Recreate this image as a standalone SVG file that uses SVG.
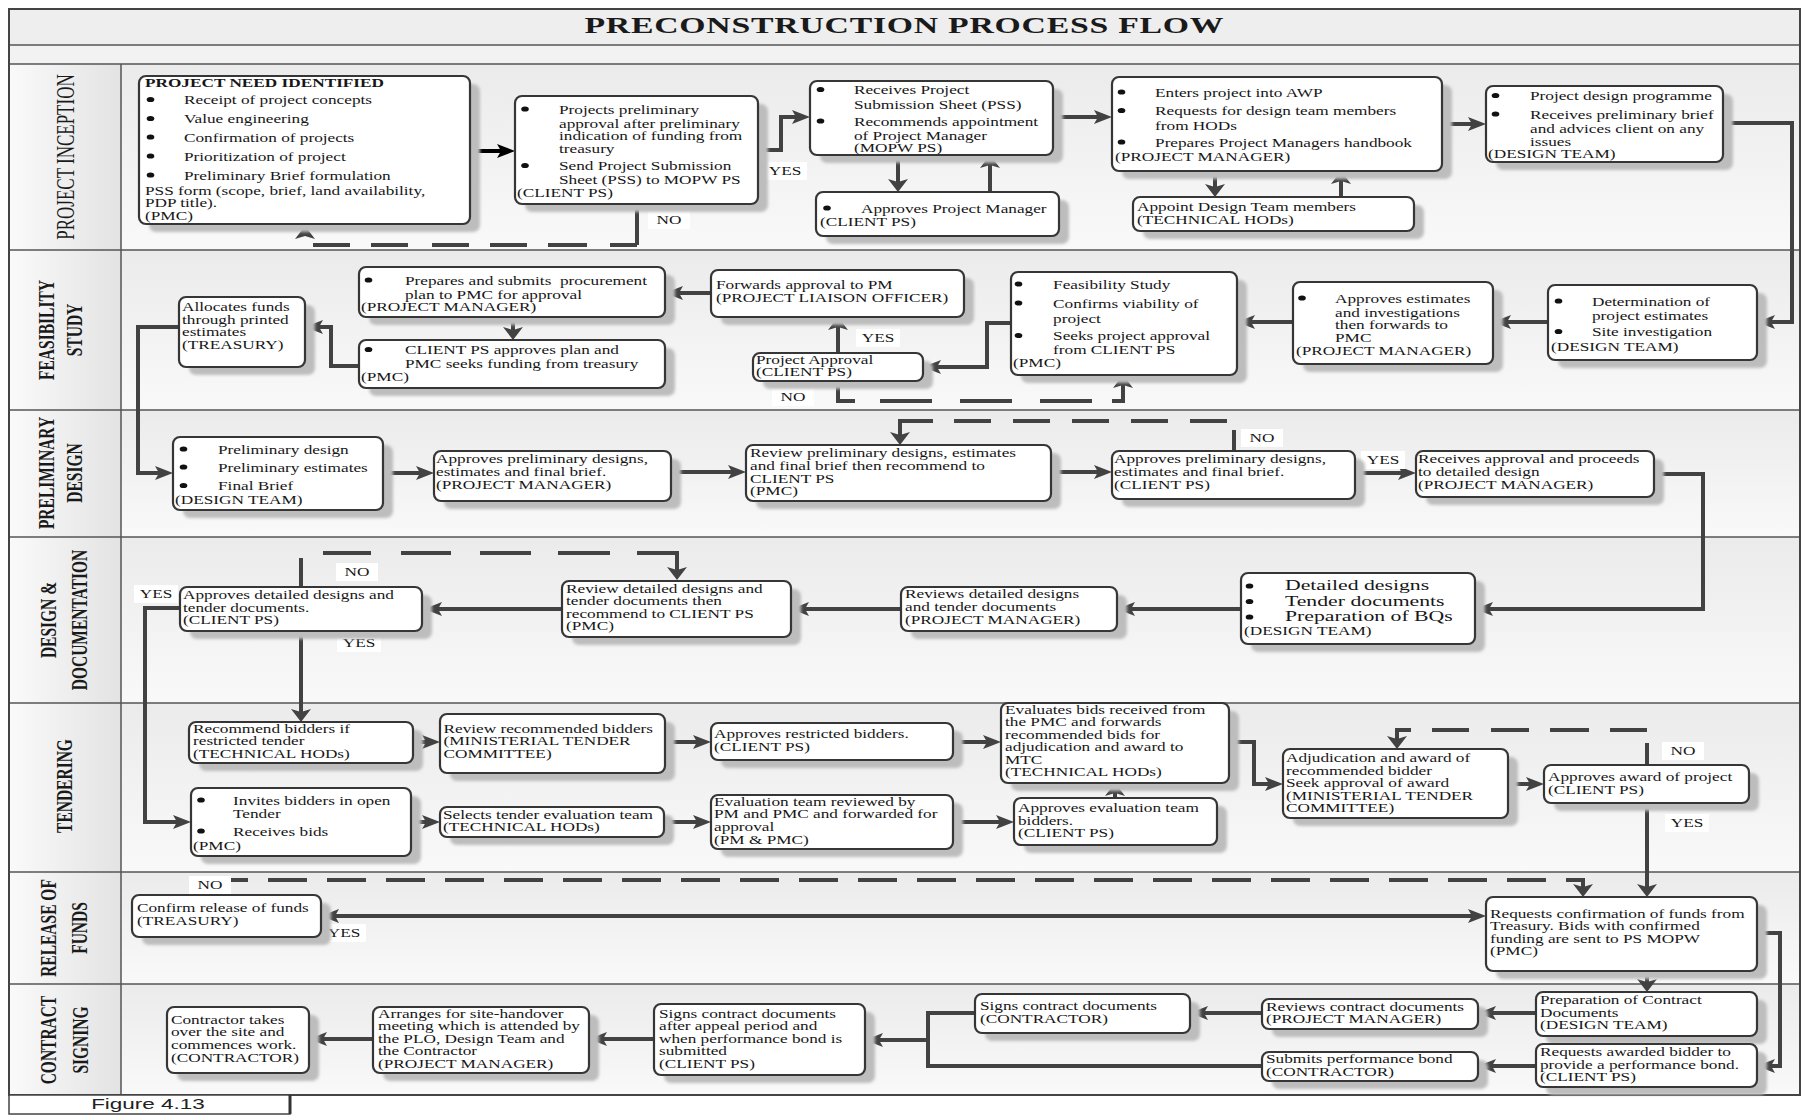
<svg xmlns="http://www.w3.org/2000/svg" width="1805" height="1115" viewBox="0 0 1805 1115">
<defs>
<style>
.sep{stroke:#555;stroke-width:1.5;fill:none}
.sh{fill:#bdbdbd;filter:url(#soft)}
.box{fill:#fff;stroke:#363636;stroke-width:2.2}
.dot{fill:#111}
.t{font-family:"Liberation Serif","Times New Roman",serif;font-size:11.5px;fill:#161616}
.b{font-weight:bold}
.big{font-size:14.5px}
.lane{font-family:"Liberation Serif","Times New Roman",serif;font-size:15.5px;font-weight:bold;fill:#1a1a1a;text-anchor:middle}
.lane-r{font-weight:normal;font-size:17px}
.ttl{font-family:"Liberation Serif","Times New Roman",serif;font-size:22.5px;font-weight:bold;fill:#1a1a1a;text-anchor:middle}
.ln{fill:none;stroke:#424242;stroke-width:4}
.lnk{fill:none;stroke:#000;stroke-width:4}
.lbl rect{fill:#fff}
.lbl text{font-family:"Liberation Serif","Times New Roman",serif;font-size:11.5px;fill:#161616;text-anchor:middle}
.fig{font-family:"Liberation Sans",Arial,sans-serif;font-size:15px;fill:#222;text-anchor:middle}
</style>
<filter id="soft" x="-10%" y="-10%" width="120%" height="130%"><feGaussianBlur stdDeviation="1.5"/></filter>
<linearGradient id="laneGrad" x1="0" y1="0" x2="0" y2="1"><stop offset="0" stop-color="#ebebeb"/><stop offset="1" stop-color="#f9f9f9"/></linearGradient>
<linearGradient id="colGrad" x1="0" y1="0" x2="1" y2="0"><stop offset="0" stop-color="#fafafa"/><stop offset="1" stop-color="#e3e3e3"/></linearGradient>
<marker id="ah" markerWidth="18" markerHeight="14" refX="12" refY="7" orient="auto-start-reverse" markerUnits="userSpaceOnUse"><path d="M0,0 L18,7 L0,14 L4,7 z" fill="#424242"/></marker>
<marker id="av" markerWidth="13" markerHeight="20" refX="7" refY="10" orient="auto" markerUnits="userSpaceOnUse"><path d="M0,0 L13,10 L0,20 L3,10 z" fill="#424242"/></marker>
<marker id="ahk" markerWidth="18" markerHeight="14" refX="12" refY="7" orient="auto" markerUnits="userSpaceOnUse"><path d="M0,0 L18,7 L0,14 L4,7 z" fill="#000"/></marker>
</defs>

<!-- frame, title and swimlanes -->
<g id="frame">
<rect x="9" y="9" width="1791" height="1086" fill="#fff"/>
<rect x="9" y="9" width="1791" height="36" fill="#eeeeee"/>
<rect x="9" y="45" width="1791" height="19" fill="#f2f2f2"/>
<rect x="121" y="64" width="1679" height="186" fill="url(#laneGrad)"/>
<rect x="121" y="250" width="1679" height="160" fill="url(#laneGrad)"/>
<rect x="121" y="410" width="1679" height="127" fill="url(#laneGrad)"/>
<rect x="121" y="537" width="1679" height="166" fill="url(#laneGrad)"/>
<rect x="121" y="703" width="1679" height="169" fill="url(#laneGrad)"/>
<rect x="121" y="872" width="1679" height="112" fill="url(#laneGrad)"/>
<rect x="121" y="984" width="1679" height="111" fill="url(#laneGrad)"/>
<rect x="9" y="64" width="112" height="1031" fill="url(#colGrad)"/>
<path class="sep" d="M9,45 H1800 M9,64 H1800 M9,250 H1800 M9,410 H1800 M9,537 H1800 M9,703 H1800 M9,872 H1800 M9,984 H1800 M121,64 V1095"/>
<rect x="9" y="9" width="1791" height="1086" fill="none" stroke="#444" stroke-width="2"/>
<text class="ttl" transform="translate(904,33) scale(1.5,1)" textLength="426" lengthAdjust="spacing">PRECONSTRUCTION PROCESS FLOW</text>
<rect x="9" y="1095" width="281" height="19" fill="#fff" stroke="#444" stroke-width="1.5"/>
<path d="M290,1095 V1114" stroke="#333" stroke-width="3"/>
<text class="fig" transform="translate(148,1109) scale(1.5,1)">Figure 4.13</text>
</g>

<g id="lane-labels">
<text class="lane lane-r" transform="translate(74,157) scale(1.5,1) rotate(-90)">PROJECT INCEPTION</text>
<text class="lane" transform="translate(54,330) scale(1.5,1) rotate(-90)">FEASIBILITY</text>
<text class="lane" transform="translate(82,330) scale(1.5,1) rotate(-90)">STUDY</text>
<text class="lane" transform="translate(54,473) scale(1.5,1) rotate(-90)">PRELIMINARY</text>
<text class="lane" transform="translate(82,473) scale(1.5,1) rotate(-90)">DESIGN</text>
<text class="lane" transform="translate(56,620) scale(1.5,1) rotate(-90)">DESIGN &amp;</text>
<text class="lane" transform="translate(87,620) scale(1.5,1) rotate(-90)">DOCUMENTATION</text>
<text class="lane" transform="translate(72,786) scale(1.5,1) rotate(-90)">TENDERING</text>
<text class="lane" transform="translate(56,928) scale(1.5,1) rotate(-90)">RELEASE OF</text>
<text class="lane" transform="translate(87,928) scale(1.5,1) rotate(-90)">FUNDS</text>
<text class="lane" transform="translate(56,1040) scale(1.5,1) rotate(-90)">CONTRACT</text>
<text class="lane" transform="translate(88,1040) scale(1.5,1) rotate(-90)">SIGNING</text>
</g>

<!-- connectors -->
<g id="connectors">
<path class="lnk" d="M470,151 H509" marker-end="url(#ahk)"/>
<path class="ln" d="M758,150 H781 V117 H804" marker-end="url(#ah)"/>
<path class="ln" d="M637,204 V245"/>
<path class="ln" d="M637,245 H305 V232" stroke-dasharray="27 23 39 21 37 21 37 24 37 21 37 30" marker-end="url(#av)"/>
<path class="ln" d="M898,155 V186" marker-end="url(#av)"/>
<path class="ln" d="M990,192 V161" marker-end="url(#av)"/>
<path class="ln" d="M1053,117 H1106" marker-end="url(#ah)"/>
<path class="ln" d="M1215,171 V191" marker-end="url(#av)"/>
<path class="ln" d="M1341,197 V177" marker-end="url(#av)"/>
<path class="ln" d="M1442,124 H1480" marker-end="url(#ah)"/>
<path class="ln" d="M1723,123 H1792 V322 H1763" marker-end="url(#ah)"/>
<path class="ln" d="M1548,322 H1499" marker-end="url(#ah)"/>
<path class="ln" d="M1293,322 H1243" marker-end="url(#ah)"/>
<path class="ln" d="M1011,323 H987 V367 H929" marker-end="url(#ah)"/>
<path class="ln" d="M838,353 V323" marker-end="url(#av)"/>
<path class="ln" d="M838,381 V401 H1123 V381" stroke-dasharray="37 25 52 28 52 28 52 20 60" marker-end="url(#av)"/>
<path class="ln" d="M711,293 H671" marker-end="url(#ah)"/>
<path class="ln" d="M513,317 V334" marker-end="url(#av)"/>
<path class="ln" d="M359,366 H331 V327 H311" marker-end="url(#ah)"/>
<path class="ln" d="M179,327 H138 V473 H167" marker-end="url(#ah)"/>
<path class="ln" d="M383,473 H428" marker-end="url(#ah)"/>
<path class="ln" d="M671,472 H740" marker-end="url(#ah)"/>
<path class="ln" d="M1051,472 H1106" marker-end="url(#ah)"/>
<path class="ln" d="M1355,473 H1410" marker-end="url(#ah)"/>
<path class="ln" d="M1234,452 V421 H900 V439" stroke-dasharray="22 16 37 22 37 22 37 22 37 22 37 21 60" marker-end="url(#av)"/>
<path class="ln" d="M1654,474 H1703 V609 H1481" marker-end="url(#ah)"/>
<path class="ln" d="M1241,609 H1123" marker-end="url(#ah)"/>
<path class="ln" d="M901,609 H797" marker-end="url(#ah)"/>
<path class="ln" d="M301,587 V553 H677 V574" stroke-dasharray="29 27 48 30 50 29 51 27 52 27 60" marker-end="url(#av)"/>
<path class="ln" d="M562,609 H430" marker-end="url(#ah)"/>
<path class="ln" d="M301,631 V716" marker-end="url(#av)"/>
<path class="ln" d="M180,608 H145 V822 H185" marker-end="url(#ah)"/>
<path class="ln" d="M413,742 H434" marker-end="url(#ah)"/>
<path class="ln" d="M665,742 H705" marker-end="url(#ah)"/>
<path class="ln" d="M953,742 H995" marker-end="url(#ah)"/>
<path class="ln" d="M1115,798 V789" marker-end="url(#av)"/>
<path class="ln" d="M1229,742 H1254 V784 H1277" marker-end="url(#ah)"/>
<path class="ln" d="M1508,784 H1538" marker-end="url(#ah)"/>
<path class="ln" d="M1647,765 V730 H1397 V743" stroke-dasharray="22 13 37 21 39 21 38 22 37 21 40" marker-end="url(#av)"/>
<path class="ln" d="M1647,803 V891" marker-end="url(#av)"/>
<path class="ln" d="M411,822 H434" marker-end="url(#ah)"/>
<path class="ln" d="M664,822 H705" marker-end="url(#ah)"/>
<path class="ln" d="M953,822 H1008" marker-end="url(#ah)"/>
<path class="ln" d="M210,895 V880 H1583 V891" stroke-dasharray="39 20" stroke-dashoffset="45" marker-end="url(#av)"/>
<path class="ln" d="M327,916 H1480" marker-start="url(#ah)" marker-end="url(#ah)"/>
<path class="ln" d="M1647,971 V986" marker-end="url(#av)"/>
<path class="ln" d="M1757,933 H1780 V1066 H1763" marker-end="url(#ah)"/>
<path class="ln" d="M1536,1013 H1484" marker-end="url(#ah)"/>
<path class="ln" d="M1536,1066 H1484" marker-end="url(#ah)"/>
<path class="ln" d="M1262,1013 H1196" marker-end="url(#ah)"/>
<path class="ln" d="M975,1013 H928 V1066 H1262"/>
<path class="ln" d="M928,1040 H871" marker-end="url(#ah)"/>
<path class="ln" d="M654,1039 H595" marker-end="url(#ah)"/>
<path class="ln" d="M373,1039 H315" marker-end="url(#ah)"/>
</g>

<!-- decision labels on connectors -->
<g id="branch-labels">
<g class="lbl"><rect x="763" y="162" width="44" height="18"/><text transform="translate(785,175) scale(1.5,1)">YES</text></g>
<g class="lbl"><rect x="648" y="211" width="42" height="18"/><text transform="translate(669,224) scale(1.5,1)">NO</text></g>
<g class="lbl"><rect x="856" y="329" width="44" height="18"/><text transform="translate(878,342) scale(1.5,1)">YES</text></g>
<g class="lbl"><rect x="772" y="388" width="42" height="18"/><text transform="translate(793,401) scale(1.5,1)">NO</text></g>
<g class="lbl"><rect x="1241" y="429" width="42" height="18"/><text transform="translate(1262,442) scale(1.5,1)">NO</text></g>
<g class="lbl"><rect x="1361" y="451" width="44" height="18"/><text transform="translate(1383,464) scale(1.5,1)">YES</text></g>
<g class="lbl"><rect x="336" y="563" width="42" height="18"/><text transform="translate(357,576) scale(1.5,1)">NO</text></g>
<g class="lbl"><rect x="337" y="634" width="44" height="18"/><text transform="translate(359,647) scale(1.5,1)">YES</text></g>
<g class="lbl"><rect x="134" y="585" width="44" height="18"/><text transform="translate(156,598) scale(1.5,1)">YES</text></g>
<g class="lbl"><rect x="1662" y="742" width="42" height="18"/><text transform="translate(1683,755) scale(1.5,1)">NO</text></g>
<g class="lbl"><rect x="1665" y="814" width="44" height="18"/><text transform="translate(1687,827) scale(1.5,1)">YES</text></g>
<g class="lbl"><rect x="189" y="876" width="42" height="18"/><text transform="translate(210,889) scale(1.5,1)">NO</text></g>
<g class="lbl"><rect x="322" y="924" width="44" height="18"/><text transform="translate(344,937) scale(1.5,1)">YES</text></g>
</g>

<!-- process steps -->
<g id="n-need">
<rect class="sh" x="149" y="84" width="331" height="148" rx="7"/>
<rect class="box" x="139" y="76" width="331" height="148" rx="7"/>
<ellipse class="dot" cx="150.5" cy="99.5" rx="3.8" ry="2.6"/>
<ellipse class="dot" cx="150.5" cy="118.5" rx="3.8" ry="2.6"/>
<ellipse class="dot" cx="150.5" cy="137" rx="3.8" ry="2.6"/>
<ellipse class="dot" cx="150.5" cy="156" rx="3.8" ry="2.6"/>
<ellipse class="dot" cx="150.5" cy="175" rx="3.8" ry="2.6"/>
<text class="t" transform="translate(145,0) scale(1.5,1)">
<tspan class="b" x="0" y="87">PROJECT NEED IDENTIFIED</tspan>
<tspan x="26" y="104.5">Receipt of project concepts</tspan>
<tspan x="26" y="123.5">Value engineering</tspan>
<tspan x="26" y="142">Confirmation of projects</tspan>
<tspan x="26" y="161">Prioritization of project</tspan>
<tspan x="26" y="180">Preliminary Brief formulation</tspan>
<tspan x="0" y="195">PSS form (scope, brief, land availability,</tspan>
<tspan x="0" y="207.5">PDP title).</tspan>
<tspan x="0" y="220">(PMC)</tspan>
</text>
</g>

<g id="n-prelim-approval">
<rect class="sh" x="525" y="104" width="243" height="108" rx="7"/>
<rect class="box" x="515" y="96" width="243" height="108" rx="7"/>
<ellipse class="dot" cx="525" cy="109" rx="3.8" ry="2.6"/>
<ellipse class="dot" cx="525" cy="165.5" rx="3.8" ry="2.6"/>
<text class="t" transform="translate(517,0) scale(1.5,1)">
<tspan x="28" y="114">Projects preliminary</tspan>
<tspan x="28" y="127.5">approval after preliminary</tspan>
<tspan x="28" y="140.5">indication of funding from</tspan>
<tspan x="28" y="153">treasury</tspan>
<tspan x="28" y="170.5">Send Project Submission</tspan>
<tspan x="28" y="184.5">Sheet (PSS) to MOPW PS</tspan>
<tspan x="0" y="197">(CLIENT PS)</tspan>
</text>
</g>

<g id="n-receive-pss">
<rect class="sh" x="820" y="89" width="243" height="74" rx="7"/>
<rect class="box" x="810" y="81" width="243" height="74" rx="7"/>
<ellipse class="dot" cx="820.5" cy="89.5" rx="3.8" ry="2.6"/>
<ellipse class="dot" cx="820.5" cy="121" rx="3.8" ry="2.6"/>
<text class="t" transform="translate(819,0) scale(1.5,1)">
<tspan x="23.3" y="94.5">Receives Project</tspan>
<tspan x="23.3" y="109">Submission Sheet (PSS)</tspan>
<tspan x="23.3" y="126">Recommends appointment</tspan>
<tspan x="23.3" y="140">of Project Manager</tspan>
<tspan x="23.3" y="152.5">(MOPW PS)</tspan>
</text>
</g>

<g id="n-awp">
<rect class="sh" x="1122" y="85" width="330" height="94" rx="7"/>
<rect class="box" x="1112" y="77" width="330" height="94" rx="7"/>
<ellipse class="dot" cx="1121.5" cy="92" rx="3.8" ry="2.6"/>
<ellipse class="dot" cx="1121.5" cy="110.5" rx="3.8" ry="2.6"/>
<ellipse class="dot" cx="1121.5" cy="142" rx="3.8" ry="2.6"/>
<text class="t" transform="translate(1115,0) scale(1.5,1)">
<tspan x="26.7" y="97">Enters project into AWP</tspan>
<tspan x="26.7" y="115.5">Requests for design team members</tspan>
<tspan x="26.7" y="130">from HODs</tspan>
<tspan x="26.7" y="147">Prepares Project Managers handbook</tspan>
<tspan x="0" y="161">(PROJECT MANAGER)</tspan>
</text>
</g>

<g id="n-approve-pm">
<rect class="sh" x="826" y="200" width="243" height="44" rx="7"/>
<rect class="box" x="816" y="192" width="243" height="44" rx="7"/>
<ellipse class="dot" cx="827" cy="208" rx="3.8" ry="2.6"/>
<text class="t" transform="translate(820,0) scale(1.5,1)">
<tspan x="27.3" y="213">Approves Project Manager</tspan>
<tspan x="0" y="226.5">(CLIENT PS)</tspan>
</text>
</g>

<g id="n-appoint-team">
<rect class="sh" x="1143" y="205" width="281" height="34" rx="7"/>
<rect class="box" x="1133" y="197" width="281" height="34" rx="7"/>
<text class="t" transform="translate(1137,0) scale(1.5,1)">
<tspan x="0" y="211">Appoint Design Team members</tspan>
<tspan x="0" y="224">(TECHNICAL HODs)</tspan>
</text>
</g>

<g id="n-design-programme">
<rect class="sh" x="1496" y="94" width="237" height="76" rx="7"/>
<rect class="box" x="1486" y="86" width="237" height="76" rx="7"/>
<ellipse class="dot" cx="1495.5" cy="95.5" rx="3.8" ry="2.6"/>
<ellipse class="dot" cx="1495.5" cy="114" rx="3.8" ry="2.6"/>
<text class="t" transform="translate(1488,0) scale(1.5,1)">
<tspan x="28" y="100.5">Project design programme</tspan>
<tspan x="28" y="119">Receives preliminary brief</tspan>
<tspan x="28" y="133">and advices client on any</tspan>
<tspan x="28" y="146">issues</tspan>
<tspan x="0" y="158.5">(DESIGN TEAM)</tspan>
</text>
</g>

<g id="n-estimates">
<rect class="sh" x="1558" y="293" width="209" height="75" rx="7"/>
<rect class="box" x="1548" y="285" width="209" height="75" rx="7"/>
<ellipse class="dot" cx="1558.5" cy="301" rx="3.8" ry="2.6"/>
<ellipse class="dot" cx="1558.5" cy="331.5" rx="3.8" ry="2.6"/>
<text class="t" transform="translate(1551,0) scale(1.5,1)">
<tspan x="27.3" y="306">Determination of</tspan>
<tspan x="27.3" y="320">project estimates</tspan>
<tspan x="27.3" y="336.5">Site investigation</tspan>
<tspan x="0" y="351">(DESIGN TEAM)</tspan>
</text>
</g>

<g id="n-approve-estimates">
<rect class="sh" x="1303" y="290" width="200" height="82" rx="7"/>
<rect class="box" x="1293" y="282" width="200" height="82" rx="7"/>
<ellipse class="dot" cx="1302" cy="298" rx="3.8" ry="2.6"/>
<text class="t" transform="translate(1296,0) scale(1.5,1)">
<tspan x="26" y="303">Approves estimates</tspan>
<tspan x="26" y="317">and investigations</tspan>
<tspan x="26" y="329.5">then forwards to</tspan>
<tspan x="26" y="342">PMC</tspan>
<tspan x="0" y="355">(PROJECT MANAGER)</tspan>
</text>
</g>

<g id="n-feasibility">
<rect class="sh" x="1021" y="280" width="226" height="103" rx="7"/>
<rect class="box" x="1011" y="272" width="226" height="103" rx="7"/>
<ellipse class="dot" cx="1018.5" cy="284" rx="3.8" ry="2.6"/>
<ellipse class="dot" cx="1018.5" cy="303" rx="3.8" ry="2.6"/>
<ellipse class="dot" cx="1018.5" cy="335.5" rx="3.8" ry="2.6"/>
<text class="t" transform="translate(1013,0) scale(1.5,1)">
<tspan x="26.7" y="289">Feasibility Study</tspan>
<tspan x="26.7" y="308">Confirms viability of</tspan>
<tspan x="26.7" y="323">project</tspan>
<tspan x="26.7" y="340.5">Seeks project approval</tspan>
<tspan x="26.7" y="354.5">from CLIENT PS</tspan>
<tspan x="0" y="367">(PMC)</tspan>
</text>
</g>

<g id="n-project-approval">
<rect class="sh" x="763" y="361" width="170" height="28" rx="7"/>
<rect class="box" x="753" y="353" width="170" height="28" rx="7"/>
<text class="t" transform="translate(756,0) scale(1.5,1)">
<tspan x="0" y="364">Project Approval</tspan>
<tspan x="0" y="376.5">(CLIENT PS)</tspan>
</text>
</g>

<g id="n-forward-approval">
<rect class="sh" x="721" y="278" width="253" height="47" rx="7"/>
<rect class="box" x="711" y="270" width="253" height="47" rx="7"/>
<text class="t" transform="translate(716,0) scale(1.5,1)">
<tspan x="0" y="289">Forwards approval to PM</tspan>
<tspan x="0" y="302">(PROJECT LIAISON OFFICER)</tspan>
</text>
</g>

<g id="n-procurement-plan">
<rect class="sh" x="369" y="275" width="306" height="50" rx="7"/>
<rect class="box" x="359" y="267" width="306" height="50" rx="7"/>
<ellipse class="dot" cx="368.5" cy="280" rx="3.8" ry="2.6"/>
<text class="t" transform="translate(361,0) scale(1.5,1)">
<tspan x="29.3" y="285">Prepares and submits &#160;procurement</tspan>
<tspan x="29.3" y="299">plan to PMC for approval</tspan>
<tspan x="0" y="311.5">(PROJECT MANAGER)</tspan>
</text>
</g>

<g id="n-plan-approved">
<rect class="sh" x="369" y="348" width="306" height="48" rx="7"/>
<rect class="box" x="359" y="340" width="306" height="48" rx="7"/>
<ellipse class="dot" cx="368.5" cy="349.5" rx="3.8" ry="2.6"/>
<text class="t" transform="translate(361,0) scale(1.5,1)">
<tspan x="29.3" y="354.5">CLIENT PS approves plan and</tspan>
<tspan x="29.3" y="368.5">PMC seeks funding from treasury</tspan>
<tspan x="0" y="381.5">(PMC)</tspan>
</text>
</g>

<g id="n-allocate-funds">
<rect class="sh" x="189" y="305" width="126" height="70" rx="7"/>
<rect class="box" x="179" y="297" width="126" height="70" rx="7"/>
<text class="t" transform="translate(182,0) scale(1.5,1)">
<tspan x="0" y="311.5">Allocates funds</tspan>
<tspan x="0" y="324">through printed</tspan>
<tspan x="0" y="336.5">estimates</tspan>
<tspan x="0" y="349">(TREASURY)</tspan>
</text>
</g>

<g id="n-prelim-design">
<rect class="sh" x="183" y="445" width="210" height="73" rx="7"/>
<rect class="box" x="173" y="437" width="210" height="73" rx="7"/>
<ellipse class="dot" cx="183.5" cy="449" rx="3.8" ry="2.6"/>
<ellipse class="dot" cx="183.5" cy="467" rx="3.8" ry="2.6"/>
<ellipse class="dot" cx="183.5" cy="485.5" rx="3.8" ry="2.6"/>
<text class="t" transform="translate(175,0) scale(1.5,1)">
<tspan x="28.7" y="454">Preliminary design</tspan>
<tspan x="28.7" y="472">Preliminary estimates</tspan>
<tspan x="28.7" y="490.5">Final Brief</tspan>
<tspan x="0" y="504.5">(DESIGN TEAM)</tspan>
</text>
</g>

<g id="n-pm-prelim">
<rect class="sh" x="444" y="459" width="237" height="50" rx="7"/>
<rect class="box" x="434" y="451" width="237" height="50" rx="7"/>
<text class="t" transform="translate(436,0) scale(1.5,1)">
<tspan x="0" y="463">Approves preliminary designs,</tspan>
<tspan x="0" y="476">estimates and final brief.</tspan>
<tspan x="0" y="489">(PROJECT MANAGER)</tspan>
</text>
</g>

<g id="n-pmc-prelim">
<rect class="sh" x="756" y="453" width="305" height="56" rx="7"/>
<rect class="box" x="746" y="445" width="305" height="56" rx="7"/>
<text class="t" transform="translate(750,0) scale(1.5,1)">
<tspan x="0" y="457.5">Review preliminary designs, estimates</tspan>
<tspan x="0" y="470">and final brief then recommend to</tspan>
<tspan x="0" y="483">CLIENT PS</tspan>
<tspan x="0" y="495.5">(PMC)</tspan>
</text>
</g>

<g id="n-client-prelim">
<rect class="sh" x="1122" y="459" width="243" height="48" rx="7"/>
<rect class="box" x="1112" y="451" width="243" height="48" rx="7"/>
<text class="t" transform="translate(1114,0) scale(1.5,1)">
<tspan x="0" y="463">Approves preliminary designs,</tspan>
<tspan x="0" y="476">estimates and final brief.</tspan>
<tspan x="0" y="489">(CLIENT PS)</tspan>
</text>
</g>

<g id="n-proceed-detailed">
<rect class="sh" x="1426" y="459" width="238" height="46" rx="7"/>
<rect class="box" x="1416" y="451" width="238" height="46" rx="7"/>
<text class="t" transform="translate(1418,0) scale(1.5,1)">
<tspan x="0" y="463.5">Receives approval and proceeds</tspan>
<tspan x="0" y="476">to detailed design</tspan>
<tspan x="0" y="489">(PROJECT MANAGER)</tspan>
</text>
</g>

<g id="n-detailed-design">
<rect class="sh" x="1251" y="581" width="234" height="71" rx="7"/>
<rect class="box" x="1241" y="573" width="234" height="71" rx="7"/>
<ellipse class="dot" cx="1249.5" cy="586" rx="3.8" ry="2.6"/>
<ellipse class="dot" cx="1249.5" cy="601.5" rx="3.8" ry="2.6"/>
<ellipse class="dot" cx="1249.5" cy="617" rx="3.8" ry="2.6"/>
<text class="t" transform="translate(1244,0) scale(1.5,1)">
<tspan class="big" x="27.3" y="590.5">Detailed designs</tspan>
<tspan class="big" x="27.3" y="606">Tender documents</tspan>
<tspan class="big" x="27.3" y="621.5">Preparation of BQs</tspan>
<tspan x="0" y="635.5">(DESIGN TEAM)</tspan>
</text>
</g>

<g id="n-pm-detailed">
<rect class="sh" x="911" y="595" width="216" height="44" rx="7"/>
<rect class="box" x="901" y="587" width="216" height="44" rx="7"/>
<text class="t" transform="translate(905,0) scale(1.5,1)">
<tspan x="0" y="598.5">Reviews detailed designs</tspan>
<tspan x="0" y="611.5">and tender documents</tspan>
<tspan x="0" y="624">(PROJECT MANAGER)</tspan>
</text>
</g>

<g id="n-pmc-detailed">
<rect class="sh" x="572" y="589" width="229" height="56" rx="7"/>
<rect class="box" x="562" y="581" width="229" height="56" rx="7"/>
<text class="t" transform="translate(566,0) scale(1.5,1)">
<tspan x="0" y="593">Review detailed designs and</tspan>
<tspan x="0" y="605.5">tender documents then</tspan>
<tspan x="0" y="618">recommend to CLIENT PS</tspan>
<tspan x="0" y="630.5">(PMC)</tspan>
</text>
</g>

<g id="n-client-detailed">
<rect class="sh" x="190" y="595" width="242" height="44" rx="7"/>
<rect class="box" x="180" y="587" width="242" height="44" rx="7"/>
<text class="t" transform="translate(183,0) scale(1.5,1)">
<tspan x="0" y="599.5">Approves detailed designs and</tspan>
<tspan x="0" y="612">tender documents.</tspan>
<tspan x="0" y="624">(CLIENT PS)</tspan>
</text>
</g>

<g id="n-recommend-bidders">
<rect class="sh" x="199" y="730" width="224" height="41" rx="7"/>
<rect class="box" x="189" y="722" width="224" height="41" rx="7"/>
<text class="t" transform="translate(193,0) scale(1.5,1)">
<tspan x="0" y="733">Recommend bidders if</tspan>
<tspan x="0" y="745.5">restricted tender</tspan>
<tspan x="0" y="758">(TECHNICAL HODs)</tspan>
</text>
</g>

<g id="n-mtc-review">
<rect class="sh" x="450" y="722" width="225" height="59" rx="7"/>
<rect class="box" x="440" y="714" width="225" height="59" rx="7"/>
<text class="t" transform="translate(443.5,0) scale(1.5,1)">
<tspan x="0" y="733">Review recommended bidders</tspan>
<tspan x="0" y="745.5">(MINISTERIAL TENDER</tspan>
<tspan x="0" y="758">COMMITTEE)</tspan>
</text>
</g>

<g id="n-approve-restricted">
<rect class="sh" x="721" y="731" width="242" height="37" rx="7"/>
<rect class="box" x="711" y="723" width="242" height="37" rx="7"/>
<text class="t" transform="translate(714,0) scale(1.5,1)">
<tspan x="0" y="738.5">Approves restricted bidders.</tspan>
<tspan x="0" y="751">(CLIENT PS)</tspan>
</text>
</g>

<g id="n-evaluate-bids">
<rect class="sh" x="1011" y="711" width="228" height="80" rx="7"/>
<rect class="box" x="1001" y="703" width="228" height="80" rx="7"/>
<text class="t" transform="translate(1005,0) scale(1.5,1)">
<tspan x="0" y="714">Evaluates bids received from</tspan>
<tspan x="0" y="726.5">the PMC and forwards</tspan>
<tspan x="0" y="739">recommended bids for</tspan>
<tspan x="0" y="751.5">adjudication and award to</tspan>
<tspan x="0" y="764">MTC</tspan>
<tspan x="0" y="776.5">(TECHNICAL HODs)</tspan>
</text>
</g>

<g id="n-approve-eval-team">
<rect class="sh" x="1024" y="806" width="203" height="47" rx="7"/>
<rect class="box" x="1014" y="798" width="203" height="47" rx="7"/>
<text class="t" transform="translate(1018,0) scale(1.5,1)">
<tspan x="0" y="812">Approves evaluation team</tspan>
<tspan x="0" y="825">bidders.</tspan>
<tspan x="0" y="837.5">(CLIENT PS)</tspan>
</text>
</g>

<g id="n-adjudication">
<rect class="sh" x="1293" y="757" width="225" height="69" rx="7"/>
<rect class="box" x="1283" y="749" width="225" height="69" rx="7"/>
<text class="t" transform="translate(1286,0) scale(1.5,1)">
<tspan x="0" y="762.5">Adjudication and award of</tspan>
<tspan x="0" y="775">recommended bidder</tspan>
<tspan x="0" y="787.5">Seek approval of award</tspan>
<tspan x="0" y="800">(MINISTERIAL TENDER</tspan>
<tspan x="0" y="812.5">COMMITTEE)</tspan>
</text>
</g>

<g id="n-approve-award">
<rect class="sh" x="1554" y="773" width="205" height="38" rx="7"/>
<rect class="box" x="1544" y="765" width="205" height="38" rx="7"/>
<text class="t" transform="translate(1548,0) scale(1.5,1)">
<tspan x="0" y="781">Approves award of project</tspan>
<tspan x="0" y="794">(CLIENT PS)</tspan>
</text>
</g>

<g id="n-open-tender">
<rect class="sh" x="201" y="796" width="220" height="68" rx="7"/>
<rect class="box" x="191" y="788" width="220" height="68" rx="7"/>
<ellipse class="dot" cx="201" cy="800" rx="3.8" ry="2.6"/>
<ellipse class="dot" cx="201" cy="831" rx="3.8" ry="2.6"/>
<text class="t" transform="translate(193,0) scale(1.5,1)">
<tspan x="26.7" y="805">Invites bidders in open</tspan>
<tspan x="26.7" y="818.5">Tender</tspan>
<tspan x="26.7" y="836">Receives bids</tspan>
<tspan x="0" y="850.5">(PMC)</tspan>
</text>
</g>

<g id="n-select-team">
<rect class="sh" x="450" y="815" width="224" height="30" rx="7"/>
<rect class="box" x="440" y="807" width="224" height="30" rx="7"/>
<text class="t" transform="translate(443,0) scale(1.5,1)">
<tspan x="0" y="819">Selects tender evaluation team</tspan>
<tspan x="0" y="831">(TECHNICAL HODs)</tspan>
</text>
</g>

<g id="n-eval-review">
<rect class="sh" x="721" y="803" width="242" height="54" rx="7"/>
<rect class="box" x="711" y="795" width="242" height="54" rx="7"/>
<text class="t" transform="translate(714,0) scale(1.5,1)">
<tspan x="0" y="806">Evaluation team reviewed by</tspan>
<tspan x="0" y="818.5">PM and PMC and forwarded for</tspan>
<tspan x="0" y="831.5">approval</tspan>
<tspan x="0" y="844">(PM &amp; PMC)</tspan>
</text>
</g>

<g id="n-request-funds">
<rect class="sh" x="1496" y="905" width="271" height="74" rx="7"/>
<rect class="box" x="1486" y="897" width="271" height="74" rx="7"/>
<text class="t" transform="translate(1490,0) scale(1.5,1)">
<tspan x="0" y="918">Requests confirmation of funds from</tspan>
<tspan x="0" y="930.5">Treasury. Bids with confirmed</tspan>
<tspan x="0" y="943">funding are sent to PS MOPW</tspan>
<tspan x="0" y="955.5">(PMC)</tspan>
</text>
</g>

<g id="n-confirm-funds">
<rect class="sh" x="142" y="903" width="189" height="42" rx="7"/>
<rect class="box" x="132" y="895" width="189" height="42" rx="7"/>
<text class="t" transform="translate(137,0) scale(1.5,1)">
<tspan x="0" y="912.5">Confirm release of funds</tspan>
<tspan x="0" y="925">(TREASURY)</tspan>
</text>
</g>

<g id="n-contract-docs">
<rect class="sh" x="1546" y="1000" width="221" height="44" rx="7"/>
<rect class="box" x="1536" y="992" width="221" height="44" rx="7"/>
<text class="t" transform="translate(1540,0) scale(1.5,1)">
<tspan x="0" y="1004.5">Preparation of Contract</tspan>
<tspan x="0" y="1017">Documents</tspan>
<tspan x="0" y="1029.5">(DESIGN TEAM)</tspan>
</text>
</g>

<g id="n-request-bond">
<rect class="sh" x="1546" y="1052" width="221" height="43" rx="7"/>
<rect class="box" x="1536" y="1044" width="221" height="43" rx="7"/>
<text class="t" transform="translate(1540,0) scale(1.5,1)">
<tspan x="0" y="1056.5">Requests awarded bidder to</tspan>
<tspan x="0" y="1069">provide a performance bond.</tspan>
<tspan x="0" y="1081.5">(CLIENT PS)</tspan>
</text>
</g>

<g id="n-pm-contract">
<rect class="sh" x="1272" y="1007" width="216" height="30" rx="7"/>
<rect class="box" x="1262" y="999" width="216" height="30" rx="7"/>
<text class="t" transform="translate(1266,0) scale(1.5,1)">
<tspan x="0" y="1011">Reviews contract documents</tspan>
<tspan x="0" y="1023.5">(PROJECT MANAGER)</tspan>
</text>
</g>

<g id="n-submit-bond">
<rect class="sh" x="1272" y="1060" width="216" height="29" rx="7"/>
<rect class="box" x="1262" y="1052" width="216" height="29" rx="7"/>
<text class="t" transform="translate(1266,0) scale(1.5,1)">
<tspan x="0" y="1063.5">Submits performance bond</tspan>
<tspan x="0" y="1076">(CONTRACTOR)</tspan>
</text>
</g>

<g id="n-contractor-signs">
<rect class="sh" x="985" y="1002" width="215" height="39" rx="7"/>
<rect class="box" x="975" y="994" width="215" height="39" rx="7"/>
<text class="t" transform="translate(980,0) scale(1.5,1)">
<tspan x="0" y="1010.5">Signs contract documents</tspan>
<tspan x="0" y="1023">(CONTRACTOR)</tspan>
</text>
</g>

<g id="n-client-signs">
<rect class="sh" x="664" y="1012" width="211" height="71" rx="7"/>
<rect class="box" x="654" y="1004" width="211" height="71" rx="7"/>
<text class="t" transform="translate(659,0) scale(1.5,1)">
<tspan x="0" y="1018">Signs contract documents</tspan>
<tspan x="0" y="1030.5">after appeal period and</tspan>
<tspan x="0" y="1043">when performance bond is</tspan>
<tspan x="0" y="1055.5">submitted</tspan>
<tspan x="0" y="1068">(CLIENT PS)</tspan>
</text>
</g>

<g id="n-handover">
<rect class="sh" x="383" y="1015" width="216" height="66" rx="7"/>
<rect class="box" x="373" y="1007" width="216" height="66" rx="7"/>
<text class="t" transform="translate(378,0) scale(1.5,1)">
<tspan x="0" y="1018">Arranges for site-handover</tspan>
<tspan x="0" y="1030.5">meeting which is attended by</tspan>
<tspan x="0" y="1043">the PLO, Design Team and</tspan>
<tspan x="0" y="1055.5">the Contractor</tspan>
<tspan x="0" y="1068">(PROJECT MANAGER)</tspan>
</text>
</g>

<g id="n-takeover">
<rect class="sh" x="177" y="1015" width="142" height="66" rx="7"/>
<rect class="box" x="167" y="1007" width="142" height="66" rx="7"/>
<text class="t" transform="translate(171,0) scale(1.5,1)">
<tspan x="0" y="1024">Contractor takes</tspan>
<tspan x="0" y="1036.5">over the site and</tspan>
<tspan x="0" y="1049.5">commences work.</tspan>
<tspan x="0" y="1062">(CONTRACTOR)</tspan>
</text>
</g>
</svg>
